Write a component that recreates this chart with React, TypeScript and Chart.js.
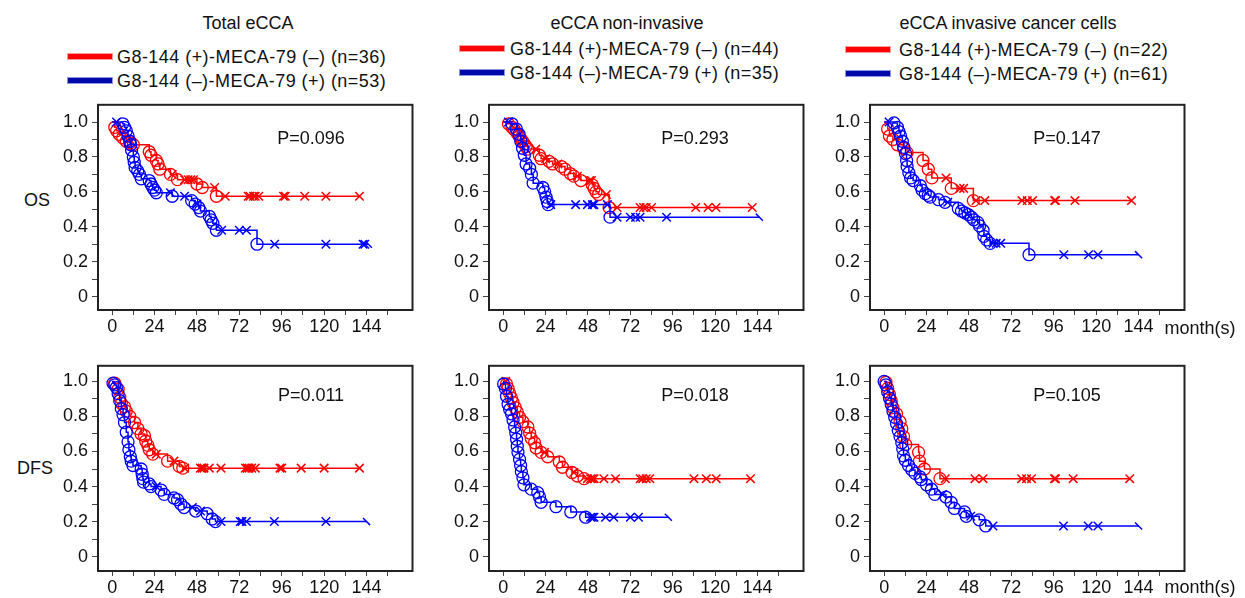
import React, { useEffect, useRef } from 'react';
import { Chart, registerables } from 'chart.js';

Chart.register(...registerables);

type Pt = [number, number];

// ---------- tick data ----------
const xTicks = [0, 12, 24, 36, 48, 60, 72, 84, 96, 108, 120, 132, 144, 156];
const xTickLabels = ['0', '', '24', '', '48', '', '72', '', '96', '', '120', '', '144', ''];
const yTicks = [0, 0.1, 0.2, 0.3, 0.4, 0.5, 0.6, 0.7, 0.8, 0.9, 1.0];
const yTickLabels = ['0', '', '0.2', '', '0.4', '', '0.6', '', '0.8', '', '1.0'];

// ---------- text ----------
const titles = ['Total eCCA', 'eCCA non-invasive', 'eCCA invasive cancer cells'];
const legendPos = ['G8-144 (+)-MECA-79 (–) (n=36)', 'G8-144 (+)-MECA-79 (–) (n=44)', 'G8-144 (+)-MECA-79 (–) (n=22)'];
const legendNeg = ['G8-144 (–)-MECA-79 (+) (n=53)', 'G8-144 (–)-MECA-79 (+) (n=35)', 'G8-144 (–)-MECA-79 (+) (n=61)'];
const pValuesOS = ['P=0.096', 'P=0.293', 'P=0.147'];
const pValuesDFS = ['P=0.011', 'P=0.018', 'P=0.105'];
const rowLabels = ['OS', 'DFS'];
const xAxisUnit = 'month(s)';

// ---------- OS, total eCCA ----------
const osTotalRedEvents: Pt[] = [[1.5, 0.97], [2.5, 0.95], [4, 0.93], [6, 0.91], [8, 0.89], [10, 0.88], [12, 0.87], [21, 0.83], [22, 0.81], [25, 0.78], [26, 0.76], [27, 0.73], [33, 0.70], [37, 0.67], [48, 0.645], [51, 0.625], [59, 0.575]];
const osTotalRedCens: Pt[] = [[34, 0.70], [41, 0.67], [43, 0.67], [44.5, 0.67], [46, 0.67], [58, 0.625], [64, 0.575], [77, 0.575], [78, 0.575], [80, 0.575], [81, 0.575], [83, 0.575], [97, 0.575], [98, 0.575], [109, 0.575], [121, 0.575], [140, 0.575]];
const osTotalBlueEvents: Pt[] = [[6, 0.99], [7, 0.97], [8, 0.95], [9, 0.92], [10, 0.89], [10.5, 0.87], [11, 0.84], [12, 0.80], [12.5, 0.77], [13, 0.74], [14.5, 0.72], [15.5, 0.70], [16.5, 0.675], [21, 0.665], [22, 0.645], [23, 0.625], [24, 0.61], [25, 0.595], [34, 0.575], [45, 0.55], [47, 0.53], [49, 0.51], [50, 0.49], [55, 0.46], [56, 0.44], [57, 0.42], [59, 0.38], [82, 0.30]];
const osTotalBlueCens: Pt[] = [[2.5, 1.0], [33, 0.595], [41, 0.575], [48, 0.53], [62, 0.38], [72, 0.38], [76, 0.38], [92, 0.30], [121, 0.30], [142, 0.30], [143, 0.30]];
const osTotalBlueEnd: Pt = [145, 0.30];

// ---------- OS, non-invasive ----------
const osNonRedEvents: Pt[] = [[3, 0.99], [5, 0.97], [6.5, 0.955], [8, 0.935], [9, 0.92], [10, 0.905], [11, 0.89], [12, 0.875], [13, 0.86], [14, 0.845], [20.5, 0.81], [21.5, 0.79], [26, 0.775], [28, 0.76], [33, 0.745], [35, 0.73], [38, 0.705], [40, 0.69], [44, 0.665], [50.5, 0.64], [51.5, 0.62], [52.5, 0.60], [54, 0.585], [60, 0.51]];
const osNonRedCens: Pt[] = [[18.5, 0.845], [24, 0.79], [31, 0.76], [42, 0.69], [49, 0.665], [50, 0.665], [58.5, 0.585], [64.5, 0.51], [77.5, 0.51], [79.5, 0.51], [81, 0.51], [84, 0.51], [109, 0.51], [116, 0.51], [120.5, 0.51], [141, 0.51]];
const osNonBlueEvents: Pt[] = [[5, 0.99], [7.5, 0.96], [9, 0.93], [10, 0.89], [11, 0.85], [12, 0.81], [13, 0.76], [15, 0.735], [16, 0.70], [17, 0.65], [22.5, 0.625], [23.5, 0.60], [24.3, 0.57], [25, 0.545], [25.5, 0.527], [60.5, 0.455]];
const osNonBlueCens: Pt[] = [[3, 1.0], [27, 0.527], [41, 0.527], [47.7, 0.527], [50.5, 0.527], [51.4, 0.527], [59, 0.527], [64.5, 0.455], [72, 0.455], [75, 0.455], [77.5, 0.455], [92.5, 0.455]];
const osNonBlueEnd: Pt = [145, 0.455];

// ---------- OS, invasive ----------
const osInvRedEvents: Pt[] = [[2, 0.96], [3, 0.92], [5, 0.90], [7.5, 0.87], [11, 0.85], [13, 0.825], [22, 0.78], [25, 0.73], [27, 0.68], [38, 0.62], [50.5, 0.55]];
const osInvRedCens: Pt[] = [[35, 0.68], [43, 0.62], [45, 0.62], [52, 0.55], [57, 0.55], [78, 0.55], [81, 0.55], [84, 0.55], [96.5, 0.55], [97, 0.55], [108, 0.55], [140, 0.55]];
const osInvBlueEvents: Pt[] = [[5.6, 0.995], [7.5, 0.97], [8.4, 0.945], [9.3, 0.92], [10.3, 0.89], [11.2, 0.855], [12.1, 0.82], [12.7, 0.78], [13, 0.745], [14, 0.71], [15, 0.68], [16.4, 0.665], [20.5, 0.635], [21.5, 0.61], [23.3, 0.59], [25, 0.58], [26, 0.57], [30.8, 0.555], [34.5, 0.54], [42, 0.505], [43.8, 0.49], [45.7, 0.48], [47.6, 0.47], [49.4, 0.455], [50.7, 0.44], [53, 0.425], [54, 0.405], [56, 0.38], [56.5, 0.345], [58, 0.325], [60, 0.305], [82, 0.24]];
const osInvBlueCens: Pt[] = [[2.8, 1.0], [36, 0.54], [47, 0.47], [61.6, 0.305], [63.4, 0.305], [66, 0.305], [101.7, 0.24], [115.7, 0.24], [121, 0.24]];
const osInvBlueEnd: Pt = [144, 0.24];

// ---------- DFS, total eCCA ----------
const dfsTotalRedEvents: Pt[] = [[1.5, 0.99], [3.4, 0.955], [4.3, 0.91], [5.2, 0.875], [7, 0.855], [8, 0.83], [10, 0.80], [12.7, 0.765], [14.6, 0.73], [16.4, 0.70], [18.3, 0.69], [19, 0.66], [20.2, 0.635], [21, 0.61], [23, 0.585], [31.4, 0.545], [38, 0.515], [40, 0.505]];
const dfsTotalRedCens: Pt[] = [[25, 0.585], [35, 0.545], [41, 0.505], [50, 0.505], [51, 0.505], [52, 0.505], [55, 0.505], [61.6, 0.505], [75.5, 0.505], [76.5, 0.505], [77.5, 0.505], [79, 0.505], [81, 0.505], [95, 0.505], [96, 0.505], [107, 0.505], [120, 0.505], [140, 0.505]];
const dfsTotalBlueEvents: Pt[] = [[0.5, 0.99], [1.5, 0.98], [2.4, 0.965], [3.4, 0.93], [4.3, 0.89], [5.2, 0.845], [6.2, 0.81], [7, 0.765], [8, 0.71], [9, 0.655], [9.5, 0.61], [10.3, 0.57], [10.8, 0.545], [11.8, 0.52], [16.4, 0.50], [17, 0.47], [17.4, 0.445], [17.8, 0.425], [21, 0.415], [22, 0.40], [27.7, 0.38], [29.5, 0.355], [35, 0.335], [37, 0.325], [38.9, 0.30], [40.7, 0.28], [47.3, 0.26], [53.8, 0.245], [56.6, 0.215], [58.5, 0.20]];
const dfsTotalBlueCens: Pt[] = [[25, 0.40], [45.4, 0.28], [50, 0.26], [61.6, 0.20], [72.5, 0.20], [73.5, 0.20], [76, 0.20], [91.8, 0.20], [121, 0.20]];
const dfsTotalBlueEnd: Pt = [144, 0.20];

// ---------- DFS, non-invasive ----------
const dfsNonRedEvents: Pt[] = [[1.9, 0.985], [2.8, 0.96], [3.7, 0.93], [4.7, 0.905], [5.6, 0.88], [6.9, 0.85], [8, 0.825], [9.3, 0.795], [11.2, 0.77], [14, 0.74], [15, 0.705], [15.9, 0.675], [17.8, 0.65], [18.7, 0.62], [21.5, 0.595], [25.2, 0.57], [31.8, 0.54], [33.6, 0.51], [39, 0.48], [42, 0.46], [45.8, 0.445]];
const dfsNonRedCens: Pt[] = [[1.5, 1.0], [23.4, 0.595], [40, 0.48], [47.7, 0.445], [49.5, 0.445], [50.5, 0.445], [51.5, 0.445], [57, 0.445], [63.6, 0.445], [77.6, 0.445], [79, 0.445], [81, 0.445], [83, 0.445], [108, 0.445], [115, 0.445], [120.6, 0.445], [140, 0.445]];
const dfsNonBlueEvents: Pt[] = [[0.3, 0.985], [1.3, 0.96], [1.9, 0.915], [2.8, 0.87], [3.7, 0.84], [4.7, 0.815], [5.6, 0.78], [6.5, 0.74], [7.2, 0.705], [7.6, 0.67], [8, 0.63], [8.4, 0.595], [9.3, 0.555], [9.9, 0.52], [10.3, 0.485], [11.2, 0.45], [11.8, 0.41], [15.9, 0.385], [19.6, 0.365], [20.6, 0.34], [21.5, 0.31], [29.9, 0.285], [38.3, 0.255], [46.7, 0.225]];
const dfsNonBlueCens: Pt[] = [[49.5, 0.225], [50.5, 0.225], [51.4, 0.225], [58, 0.225], [62.6, 0.225], [72, 0.225], [76.6, 0.225]];
const dfsNonBlueEnd: Pt = [93.5, 0.225];

// ---------- DFS, invasive ----------
const dfsInvRedEvents: Pt[] = [[1, 0.995], [2, 0.96], [3, 0.925], [4, 0.89], [5, 0.85], [7, 0.815], [9, 0.77], [10, 0.73], [11, 0.685], [12.2, 0.64], [19.5, 0.595], [20, 0.545], [22.8, 0.50], [31.6, 0.445]];
const dfsInvRedCens: Pt[] = [[34.6, 0.445], [51.4, 0.445], [56, 0.445], [77.8, 0.445], [80.6, 0.445], [83.4, 0.445], [96.4, 0.445], [97, 0.445], [107, 0.445], [139, 0.445]];
const dfsInvBlueEvents: Pt[] = [[0, 1.0], [1, 0.98], [2, 0.94], [3, 0.905], [4, 0.87], [5, 0.83], [6, 0.795], [7, 0.76], [8, 0.72], [9, 0.685], [10, 0.65], [10.5, 0.615], [11, 0.575], [12, 0.55], [13.8, 0.52], [15.7, 0.495], [17.5, 0.475], [20.3, 0.455], [21, 0.44], [24, 0.41], [26.8, 0.385], [28.7, 0.355], [35, 0.34], [37.9, 0.31], [39.8, 0.275], [45.5, 0.255], [46.5, 0.23], [53.8, 0.21], [57.5, 0.175]];
const dfsInvBlueCens: Pt[] = [[33, 0.355], [49, 0.23], [61.6, 0.175], [101.5, 0.175], [115.5, 0.175], [121, 0.175]];
const dfsInvBlueEnd: Pt = [144, 0.175];

const RED = '#ff0000';
const BLUE = '#0000ff';
const FONT = '"Liberation Sans", Arial, Helvetica, sans-serif';

interface Curve { events: Pt[]; cens: Pt[]; end?: Pt; color: string; }

const panels = [
  { col: 0, row: 0, p: pValuesOS[0], curves: [{ events: osTotalBlueEvents, cens: osTotalBlueCens, end: osTotalBlueEnd, color: BLUE }, { events: osTotalRedEvents, cens: osTotalRedCens, color: RED }] },
  { col: 1, row: 0, p: pValuesOS[1], curves: [{ events: osNonBlueEvents, cens: osNonBlueCens, end: osNonBlueEnd, color: BLUE }, { events: osNonRedEvents, cens: osNonRedCens, color: RED }] },
  { col: 2, row: 0, p: pValuesOS[2], curves: [{ events: osInvBlueEvents, cens: osInvBlueCens, end: osInvBlueEnd, color: BLUE }, { events: osInvRedEvents, cens: osInvRedCens, color: RED }] },
  { col: 0, row: 1, p: pValuesDFS[0], curves: [{ events: dfsTotalBlueEvents, cens: dfsTotalBlueCens, end: dfsTotalBlueEnd, color: BLUE }, { events: dfsTotalRedEvents, cens: dfsTotalRedCens, color: RED }] },
  { col: 1, row: 1, p: pValuesDFS[1], curves: [{ events: dfsNonBlueEvents, cens: dfsNonBlueCens, end: dfsNonBlueEnd, color: BLUE }, { events: dfsNonRedEvents, cens: dfsNonRedCens, color: RED }] },
  { col: 2, row: 1, p: pValuesDFS[2], curves: [{ events: dfsInvBlueEvents, cens: dfsInvBlueCens, end: dfsInvBlueEnd, color: BLUE }, { events: dfsInvRedEvents, cens: dfsInvRedCens, color: RED }] },
];

// ---------- layout ----------
const BOX_LEFT = [98, 489, 870];
const BOX_TOP = [96, 357];
const BOX_W = 316;
const BOX_H = 214;
const Y_RANGE = [[-0.077, 1.099], [-0.082, 1.089]];
const X_RANGE = [-8, 170];
const AXIS_W = 50;
const AXIS_H = 34;
const PAD_T = 6;
const PAD_R = 6;

const boxPlugin = {
  id: 'kmBox',
  afterDraw(chart: any) {
    const { ctx, chartArea } = chart;
    ctx.save();
    ctx.strokeStyle = '#222';
    ctx.lineWidth = 2;
    ctx.strokeRect(chartArea.left, chartArea.top, chartArea.right - chartArea.left, chartArea.bottom - chartArea.top);
    ctx.restore();
  },
};

function KMPanel({ col, row, curves }: { col: number; row: number; curves: Curve[] }) {
  const ref = useRef<HTMLCanvasElement>(null);
  const width = AXIS_W + BOX_W + PAD_R;
  const height = PAD_T + BOX_H + AXIS_H;
  useEffect(() => {
    if (!ref.current) return;
    const datasets: any[] = [];
    curves.forEach((c) => {
      const all: Pt[] = [[0, 1], ...c.events, ...c.cens, ...(c.end ? [c.end] : [])];
      const linePts = all.slice().sort((a, b) => a[0] - b[0]).map(([x, y]) => ({ x, y }));
      datasets.push({
        type: 'scatter', data: c.events.map(([x, y]) => ({ x, y })), pointStyle: 'circle', pointRadius: 6,
        borderColor: c.color, backgroundColor: 'rgba(0,0,0,0)', borderWidth: 1.3, showLine: false,
      });
      datasets.push({
        type: 'scatter', data: c.cens.map(([x, y]) => ({ x, y })), pointStyle: 'crossRot', pointRadius: 6,
        borderColor: c.color, backgroundColor: c.color, borderWidth: 1.5, showLine: false,
      });
      if (c.end) {
        datasets.push({
          type: 'scatter', data: [{ x: c.end[0], y: c.end[1] }], pointStyle: 'line', pointRadius: 5, rotation: 45,
          borderColor: c.color, borderWidth: 1.5, showLine: false,
        });
      }
      datasets.push({
        type: 'line', data: linePts, borderColor: c.color, borderWidth: 1.5, stepped: true, pointRadius: 0, fill: false,
      });
    });
    const tickFont = { family: FONT, size: 18 };
    const chart = new Chart(ref.current, {
      type: 'scatter',
      data: { datasets },
      options: {
        responsive: false,
        animation: false,
        devicePixelRatio: 1,
        layout: { padding: { top: PAD_T, right: PAD_R, left: 0, bottom: 0 } },
        plugins: { legend: { display: false }, tooltip: { enabled: false } },
        scales: {
          x: {
            type: 'linear', min: X_RANGE[0], max: X_RANGE[1],
            afterBuildTicks: (s: any) => { s.ticks = xTicks.map((v) => ({ value: v })); },
            afterFit: (s: any) => { s.height = AXIS_H; },
            border: { display: false },
            grid: { drawOnChartArea: false, drawTicks: true, tickLength: 5, color: '#444', lineWidth: 1 },
            ticks: { autoSkip: false, maxRotation: 0, padding: 1, font: tickFont, color: '#111', callback: (_v: any, i: number) => xTickLabels[i] },
          },
          y: {
            type: 'linear', min: Y_RANGE[row][0], max: Y_RANGE[row][1],
            afterBuildTicks: (s: any) => { s.ticks = yTicks.map((v) => ({ value: v })); },
            afterFit: (s: any) => { s.width = AXIS_W; },
            border: { display: false },
            grid: { drawOnChartArea: false, drawTicks: true, tickLength: 6, color: '#444', lineWidth: 1 },
            ticks: { autoSkip: false, padding: 4, font: tickFont, color: '#111', callback: (_v: any, i: number) => yTickLabels[i] },
          },
        },
      } as any,
      plugins: [boxPlugin],
    });
    return () => chart.destroy();
  }, []);
  return (
    <canvas
      ref={ref}
      width={width}
      height={height}
      style={{ position: 'absolute', left: BOX_LEFT[col] - AXIS_W, top: BOX_TOP[row] - PAD_T, width, height }}
    />
  );
}

function Txt({ x, y, children, anchor = 'center', spacing = 0 }: { x: number; y: number; children: React.ReactNode; anchor?: string; spacing?: number }) {
  return (
    <div
      style={{
        position: 'absolute', left: x, top: y, whiteSpace: 'nowrap', font: `18px ${FONT}`, color: '#111', lineHeight: '20px',
        letterSpacing: spacing ? `${spacing}px` : undefined,
        transform: anchor === 'center' ? 'translate(-50%,-50%)' : 'translate(0,-50%)',
      }}
    >
      {children}
    </div>
  );
}

const titleX = [248, 627, 1008];
const legendSwatchX = [67, 459, 845];
const legendTextX = [117, 510, 899];
const legendRowY = [[57, 81], [49, 73], [50, 74]];
const pX = [311, 695, 1067];
const pY = [138, 395];

function Swatch({ x, y, color, edge }: { x: number; y: number; color: string; edge: string }) {
  return (
    <div style={{ position: 'absolute', left: x, top: y - 4, width: 44, height: 5, background: color, border: `1px solid ${edge}` }} />
  );
}

export default function App() {
  return (
    <div style={{ position: 'absolute', left: 0, top: 0, width: 1245, height: 598, background: '#fff', overflow: 'hidden' }}>
      {titles.map((t, i) => <Txt key={'t' + i} x={titleX[i]} y={23}>{t}</Txt>)}
      {[0, 1, 2].map((i) => (
        <React.Fragment key={'l' + i}>
          <Swatch x={legendSwatchX[i]} y={legendRowY[i][0]} color="#ff0000" edge="#ff9a9a" />
          <Txt x={legendTextX[i]} y={legendRowY[i][0]} anchor="left" spacing={0.45}>{legendPos[i]}</Txt>
          <Swatch x={legendSwatchX[i]} y={legendRowY[i][1]} color="#0008a8" edge="#8c96e6" />
          <Txt x={legendTextX[i]} y={legendRowY[i][1]} anchor="left" spacing={0.45}>{legendNeg[i]}</Txt>
        </React.Fragment>
      ))}
      <Txt x={37} y={200}>{rowLabels[0]}</Txt>
      <Txt x={35} y={468}>{rowLabels[1]}</Txt>
      {panels.map((p, i) => (
        <KMPanel key={'c' + i} col={p.col} row={p.row} curves={p.curves} />
      ))}
      {panels.map((p, i) => (
        <Txt key={'p' + i} x={pX[p.col]} y={pY[p.row]}>{p.p}</Txt>
      ))}
      <Txt x={1200} y={328}>{xAxisUnit}</Txt>
      <Txt x={1200} y={587}>{xAxisUnit}</Txt>
    </div>
  );
}
